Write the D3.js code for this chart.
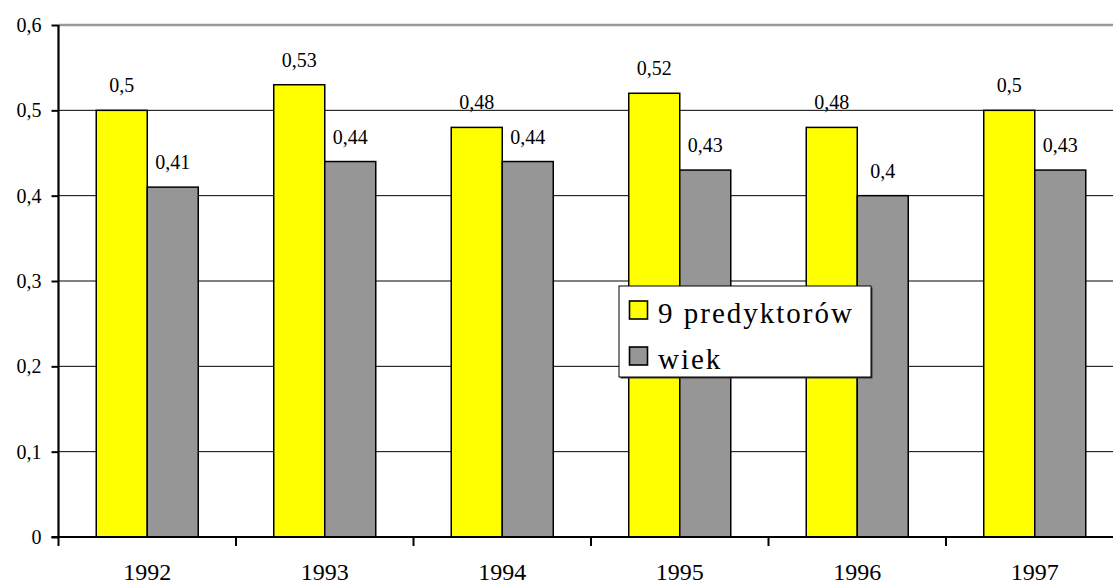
<!DOCTYPE html>
<html><head><meta charset="utf-8">
<script src="https://cdn.jsdelivr.net/npm/d3@7"></script>
<style>body{margin:0;background:#fff;}svg text{font-family:"Liberation Serif","Times New Roman","DejaVu Serif",serif !important;}</style>
</head><body><svg id="c" width="1113" height="586"></svg>
<script>
const years = ["1992","1993","1994","1995","1996","1997"];
const predyktorow = [0.5,0.53,0.48,0.52,0.48,0.5];
const wiek = [0.41,0.44,0.44,0.43,0.4,0.43];
const valueLabelsP = ["0,5","0,53","0,48","0,52","0,48","0,5"];
const valueLabelsW = ["0,41","0,44","0,44","0,43","0,4","0,43"];
const yTicks = [0,0.1,0.2,0.3,0.4,0.5,0.6];
const seriesNames = ["9 predyktorów","wiek"];
const colors = ["#ffff00","#969696"];

const svg = d3.select("#c");
const x0 = 58.5, x1 = 1123.5, yTop = 25, yBot = 537;
const x = d3.scaleBand().domain(years).range([x0,x1]).paddingInner(0).paddingOuter(0);
const y = d3.scaleLinear().domain([0,0.6]).range([yBot,yTop]);
const sub = d3.scaleBand().domain([0,1]).range([0,x.bandwidth()]).paddingInner(0).paddingOuter(0.74);

// gridlines
svg.append("g").selectAll("line").data(yTicks.filter(d=>d>0 && d<0.6)).join("line")
  .attr("x1",x0).attr("x2",1113).attr("y1",d=>y(d)).attr("y2",d=>y(d))
  .attr("stroke","#000").attr("stroke-width",1);
svg.append("line").attr("x1",x0).attr("x2",1113).attr("y1",y(0.6)).attr("y2",y(0.6))
  .attr("stroke","#999").attr("stroke-width",2.5);

// bars
const series = [predyktorow, wiek];
const labels = [valueLabelsP, valueLabelsW];
series.forEach((vals,si)=>{
  svg.append("g").selectAll("rect").data(vals).join("rect")
    .attr("x",(d,i)=>x(years[i])+sub(si))
    .attr("y",d=>y(d))
    .attr("width",sub.bandwidth())
    .attr("height",d=>y(0)-y(d))
    .attr("fill",colors[si]).attr("stroke","#000").attr("stroke-width",1.5);
  svg.append("g").selectAll("text").data(vals).join("text")
    .attr("x",(d,i)=>x(years[i])+sub(si)+sub.bandwidth()/2)
    .attr("y",d=>y(d)-18)
    .attr("text-anchor","middle").attr("font-size",20).attr("fill","#000")
    .text((d,i)=>labels[si][i]);
});

// y axis
const yAxis = d3.axisLeft(y).tickValues(yTicks).tickSize(7).tickFormat(d=>d3.format(".1f")(d).replace(".",",").replace(/^0,0$/,"0"));
const gy = svg.append("g").attr("transform",`translate(${x0},0)`).call(yAxis);
gy.select(".domain").attr("stroke","#000").attr("stroke-width",2.2).attr("d",`M0,${yTop}V${yBot}`);
gy.selectAll(".tick line").attr("stroke","#000").attr("stroke-width",2);
gy.selectAll(".tick text").attr("font-size",20).attr("fill","#000").attr("x",-17).attr("dy","0.33em");

// x axis
const gx = svg.append("g").attr("transform",`translate(0,${yBot})`);
gx.append("line").attr("x1",x0-7).attr("x2",1113).attr("y1",0).attr("y2",0).attr("stroke","#000").attr("stroke-width",2.2);
gx.selectAll("line.t").data(years.concat(["end"])).join("line").attr("class","t")
  .attr("x1",(d,i)=>x0+i*x.bandwidth()).attr("x2",(d,i)=>x0+i*x.bandwidth())
  .attr("y1",0).attr("y2",9).attr("stroke","#000").attr("stroke-width",2);
gx.selectAll("text").data(years).join("text")
  .attr("x",d=>x(d)+x.bandwidth()/2).attr("y",43)
  .attr("text-anchor","middle").attr("font-size",24).attr("fill","#000").text(d=>d);

// legend
const lg = svg.append("g").attr("transform","translate(619,286)");
lg.append("rect").attr("x",1.5).attr("y",1.5).attr("width",252).attr("height",91).attr("fill","#333");
lg.append("rect").attr("width",252).attr("height",91).attr("fill","#fff").attr("stroke","#000").attr("stroke-width",1);
seriesNames.forEach((n,i)=>{
  lg.append("rect").attr("x",10.5).attr("y",15+i*46).attr("width",18).attr("height",18)
    .attr("fill",colors[i]).attr("stroke","#000").attr("stroke-width",1.6);
  lg.append("text").attr("x",39).attr("y",37+i*46).attr("font-size",29).attr("letter-spacing","2px")
    .attr("fill","#000").text(n);
});
</script></body></html>
